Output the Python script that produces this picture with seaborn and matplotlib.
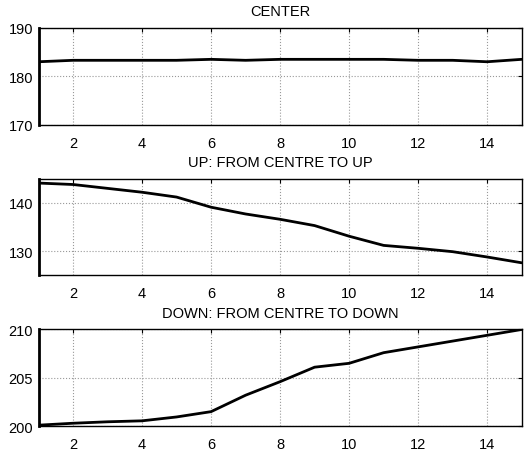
import matplotlib
matplotlib.use("Agg")
import matplotlib.pyplot as plt
import seaborn as sns
import pandas as pd

# sample index 1..15
steps = list(range(1, 16))

center = [183.0, 183.3, 183.3, 183.3, 183.3, 183.5, 183.3, 183.5,
          183.5, 183.5, 183.5, 183.3, 183.3, 183.0, 183.5]
up = [144.1, 143.8, 143.0, 142.2, 141.2, 139.1, 137.7, 136.6,
      135.3, 133.1, 131.2, 130.6, 129.9, 128.8, 127.6]
down = [200.1, 200.3, 200.45, 200.55, 200.95, 201.5, 203.2, 204.6,
        206.1, 206.5, 207.6, 208.2, 208.8, 209.4, 210.0]

titles = ["CENTER", "UP: FROM CENTRE TO UP", "DOWN: FROM CENTRE TO DOWN"]
ylims = [(170, 190), (125, 145), (200, 210)]
yticks = [[170, 180, 190], [130, 140], [200, 205, 210]]
xticks = [2, 4, 6, 8, 10, 12, 14]

sns.set_theme(style="white")
plt.rcParams["font.family"] = ["Liberation Sans", "DejaVu Sans"]
plt.rcParams["font.size"] = 10.5

fig, axes = plt.subplots(3, 1, figsize=(5.28, 4.52), dpi=100)
fig.subplots_adjust(left=0.073, right=0.988, top=0.936, bottom=0.055, hspace=0.56)

for ax, vals, title, ylim, yt in zip(axes, [center, up, down], titles, ylims, yticks):
    df = pd.DataFrame({"step": steps, "value": vals})
    sns.lineplot(data=df, x="step", y="value", ax=ax, color="black", linewidth=2.0)
    ax.set_xlim(1, 15)
    ax.set_ylim(*ylim)
    ax.set_xticks(xticks)
    ax.set_yticks(yt)
    ax.set_xlabel("")
    ax.set_ylabel("")
    ax.set_title(title, fontsize=10.5, color="black", pad=9)
    ax.grid(True, color="#999999", linestyle=":", linewidth=0.8)
    ax.tick_params(direction="in", length=3, width=0.8, colors="black",
                   top=True, right=True, labelsize=10.5)
    ax.tick_params(axis="x", pad=8)
    ax.tick_params(axis="y", pad=4)
    for side in ["top", "right", "bottom"]:
        ax.spines[side].set_linewidth(1.0)
        ax.spines[side].set_color("black")
    ax.spines["left"].set_linewidth(2.0)
    ax.spines["left"].set_color("black")

fig.savefig("out.png", dpi=100, facecolor="white")
